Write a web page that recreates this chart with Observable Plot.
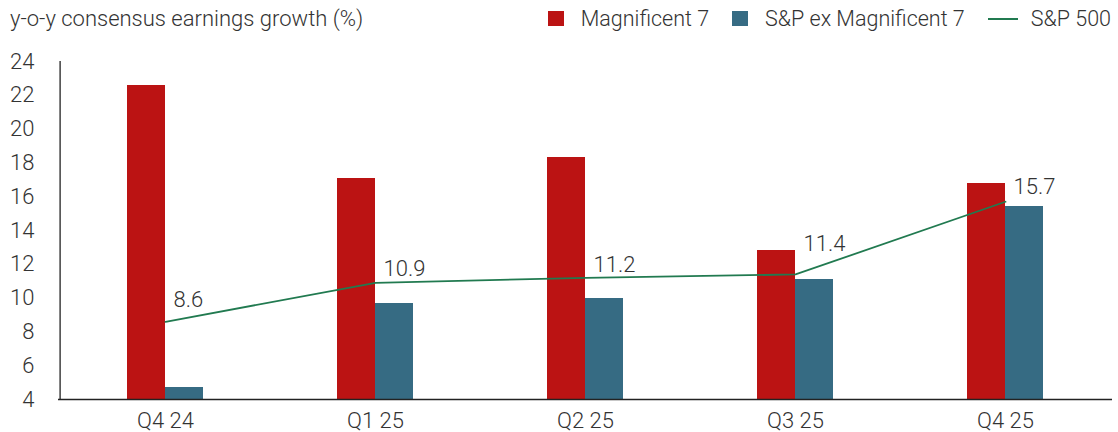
<!DOCTYPE html>
<html>
<head>
<meta charset="utf-8">
<script src="https://cdn.jsdelivr.net/npm/d3@7"></script>
<script src="https://cdn.jsdelivr.net/npm/@observablehq/plot@0.6"></script>
<style>
  html, body { margin: 0; padding: 0; background: #fff; }
  body { width: 1118px; height: 432px; overflow: hidden; font-family: Roboto, "Helvetica Neue", Arial, sans-serif; color: #333; }
  .head { position: relative; height: 40px; }
  .title { position: absolute; left: 10px; top: 6px; font-size: 22px; font-weight: 300; white-space: nowrap; }
  .legend { position: absolute; right: 7px; top: 6px; display: flex; align-items: center; font-size: 21.5px; font-weight: 300; white-space: nowrap; }
  .sw { display: inline-block; width: 16px; height: 15px; margin-right: 17px; }
  .ln { display: inline-block; width: 30px; height: 2px; margin-right: 13px; }
  .item { display: inline-flex; align-items: center; margin-right: 23px; }
  #chart svg { display: block; }
</style>
</head>
<body>
<div class="head">
  <div class="title">y-o-y consensus earnings growth (%)</div>
  <div class="legend" id="legend"></div>
</div>
<div id="chart"></div>
<script>
// Quarterly consensus earnings growth, % year over year
const quarters = ["Q4 24", "Q1 25", "Q2 25", "Q3 25", "Q4 25"];
const mag7 = [22.6, 17.1, 18.3, 12.8, 16.8];
const exMag7 = [4.7, 9.7, 10.0, 11.1, 15.4];
const sp500 = [8.6, 10.9, 11.2, 11.4, 15.7];
const seriesNames = ["Magnificent 7", "S&P ex Magnificent 7", "S&P 500"];
const yTicks = [4, 6, 8, 10, 12, 14, 16, 18, 20, 22, 24];

const colors = { mag: "#bb1313", ex: "#366b83", sp: "#217a50" };

// legend
const legend = document.getElementById("legend");
[
  [seriesNames[0], `<span class="sw" style="background:${colors.mag}"></span>`],
  [seriesNames[1], `<span class="sw" style="background:${colors.ex}"></span>`],
  [seriesNames[2], `<span class="ln" style="background:${colors.sp}"></span>`]
].forEach(([name, key], i) => {
  const el = document.createElement("span");
  el.className = "item";
  if (i === 2) el.style.marginRight = "0";
  el.innerHTML = key + name;
  legend.appendChild(el);
});

const W = 1118, H = 392;
const mL = 58, mR = 6, mT = 21, mB = 33;
const band = (W - mL - mR) / quarters.length;
const barW = 38;

const rows = quarters.map((q, i) => ({ q, mag: mag7[i], ex: exMag7[i], sp: sp500[i] }));

// vertical nudges for the S&P 500 value labels
const lift = [-22, -14, -13, -30, -15];

const font = "Roboto, 'Helvetica Neue', Arial, sans-serif";

const chart = Plot.plot({
  width: W,
  height: H,
  marginLeft: mL,
  marginRight: mR,
  marginTop: mT,
  marginBottom: mB,
  style: { fontFamily: font, fontSize: "22px", fontWeight: 300, color: "#333", background: "#fff" },
  x: { domain: quarters, padding: 0, label: null },
  y: { domain: [4, 24], label: null },
  marks: [
    Plot.axisY({ ticks: yTicks, tickSize: 0, tickPadding: 24, label: null, fill: "#333" }),
    Plot.axisX({ tickSize: 0, tickPadding: 13, label: null, fill: "#333" }),
    Plot.barY(rows, { x: "q", y1: 4, y2: "mag", fill: colors.mag, shapeRendering: "crispEdges", insetLeft: band / 2 - barW, insetRight: band / 2 }),
    Plot.barY(rows, { x: "q", y1: 4, y2: "ex", fill: colors.ex, shapeRendering: "crispEdges", insetLeft: band / 2, insetRight: band / 2 - barW }),
    Plot.ruleX([quarters[0]], { y1: 4, y2: 24, stroke: "#222", strokeWidth: 1.3, dx: -band / 2 }),
    Plot.ruleY([4], { stroke: "#222", strokeWidth: 1.6 }),
    Plot.line(rows, { x: "q", y: "sp", stroke: colors.sp, strokeWidth: 1.8 }),
    ...rows.map((r, i) => Plot.text([r], {
      x: "q", y: "sp", text: d => d.sp.toFixed(1),
      textAnchor: "start", lineAnchor: "middle", dx: 8, dy: lift[i],
      fill: "#333", fontSize: 22
    }))
  ]
});
document.getElementById("chart").appendChild(chart);
</script>
</body>
</html>
